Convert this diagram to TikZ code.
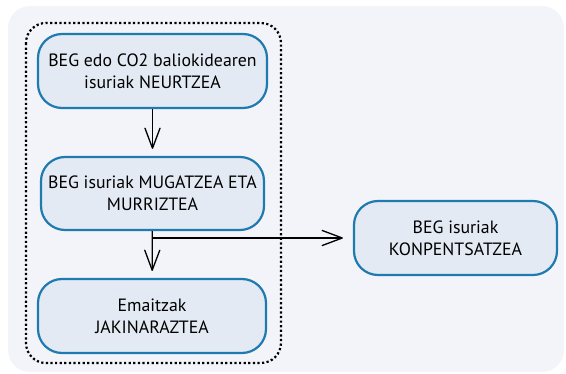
\documentclass[tikz,border=0pt]{standalone}
\usepackage{fontspec}
\setmainfont{PT Sans}
\usetikzlibrary{arrows.meta}
\definecolor{bgpanel}{HTML}{F3F4F9}
\definecolor{boxfill}{HTML}{E3EAF3}
\definecolor{boxline}{HTML}{1F7AB0}
\tikzset{
	stepbox/.style={draw=boxline,fill=boxfill,line width=2.2pt,rounded corners=24pt,
		align=center,font=\fontsize{17.8}{22}\selectfont,inner sep=2pt},
	flow/.style={line width=1.3pt,-{Straight Barb[length=20pt,width=15pt,line width=1.3pt,round]}}
}
\begin{document}
\begin{tikzpicture}[x=1pt,y=-1pt]
		\useasboundingbox (0,0) rectangle (566,374);
		% Background panel
		\fill[bgpanel,rounded corners=22pt] (8,6) rectangle (564,372);
		
		% Group border
		\draw[line width=2.2pt,dash pattern=on 2.2pt off 2.4pt,rounded corners=20pt] (26,23) rectangle (281,363);
		
		% Steps
		\node[stepbox,minimum width=229pt,minimum height=74pt] (neurtu) at (152.5,71) {BEG edo CO2 baliokidearen\\isuriak NEURTZEA};
		\node[stepbox,minimum width=223pt,minimum height=73pt] (mugatu) at (152.5,193.5) {BEG isuriak MUGATZEA ETA\\MURRIZTEA};
		\node[stepbox,minimum width=228pt,minimum height=74pt] (jakinarazi) at (152,316) {Emaitzak\\JAKINARAZTEA};
		\node[stepbox,minimum width=203pt,minimum height=74pt] (konpentsatu) at (455.5,238) {BEG isuriak\\KONPENTSATZEA};
		
		% Arrows
		\draw[flow,shorten >=7pt] (neurtu) -- (mugatu);
		\draw[flow,shorten >=7pt] (mugatu) -- (jakinarazi);
		\draw[flow,shorten >=10pt] (mugatu.south |- konpentsatu.west) -- (konpentsatu.west);
\end{tikzpicture}
\end{document}
